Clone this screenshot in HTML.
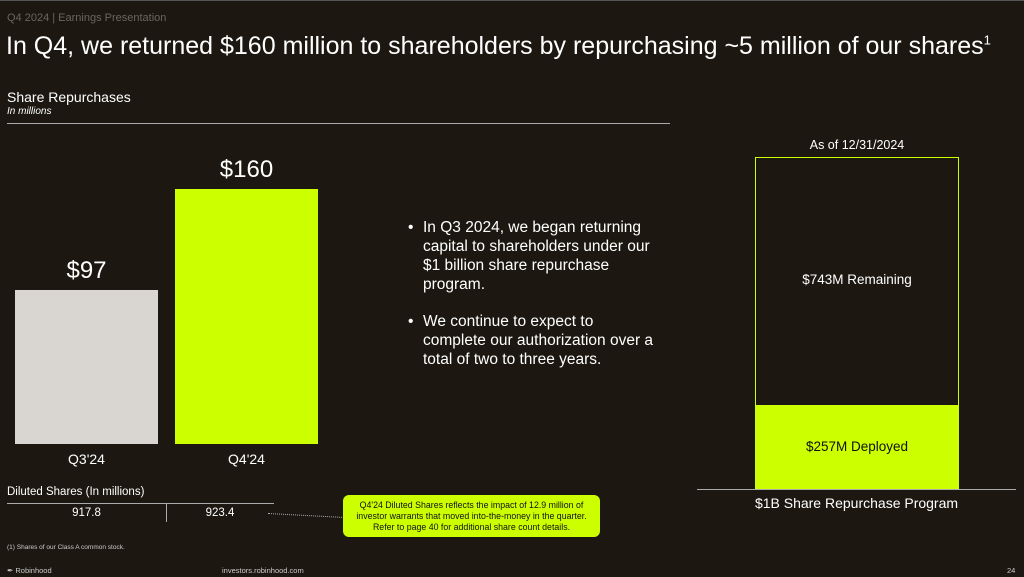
<!DOCTYPE html><html><head><style>
body{margin:0;width:1024px;height:577px;background:#1c1811;font-family:"Liberation Sans",sans-serif;color:#fff;position:relative;overflow:hidden}
div{position:absolute}
.c{text-align:center}
</style></head><body>
<div style="left:0;top:0;width:1024px;height:1px;background:#555"></div>
<div style="left:7px;top:12px;font-size:11px;color:#6a665e">Q4 2024 | Earnings Presentation</div>
<div style="left:6px;top:32px;font-size:25px;white-space:nowrap">In Q4, we returned $160 million to shareholders by repurchasing ~5 million of our shares<sup style="font-size:13px">1</sup></div>
<div style="left:7px;top:89px;font-size:14px">Share Repurchases</div>
<div style="left:7px;top:106px;font-size:10px;font-style:italic">In millions</div>
<div style="left:7px;top:123px;width:663px;height:1px;background:#aaa"></div>
<div style="left:15px;top:290px;width:143px;height:154px;background:#d9d6d1"></div>
<div style="left:175px;top:189px;width:143px;height:255px;background:#ccff00"></div>
<div class="c" style="left:15px;width:143px;top:257px;font-size:24px">$97</div>
<div class="c" style="left:175px;width:143px;top:156px;font-size:24px">$160</div>
<div class="c" style="left:15px;width:143px;top:451px;font-size:14px">Q3'24</div>
<div class="c" style="left:175px;width:143px;top:451px;font-size:14px">Q4'24</div>
<div style="left:7px;top:486px;font-size:11.5px">Diluted Shares (In millions)</div>
<div style="left:7px;top:503px;width:267px;height:1px;background:#aaa"></div>
<div style="left:166px;top:503px;width:1px;height:19px;background:#aaa"></div>
<div class="c" style="left:7px;width:159px;top:507px;font-size:11.5px">917.8</div>
<div class="c" style="left:166px;width:108px;top:507px;font-size:11.5px">923.4</div>
<div style="left:268px;top:513px;width:76px;border-top:1px dotted #aaa;transform:rotate(3deg);transform-origin:left"></div>
<div class="c" style="left:343px;top:495px;width:257px;height:42px;background:#ccff00;border-radius:6px;color:#111;font-size:8.8px;line-height:11px;padding:5px 8px 0;box-sizing:border-box">Q4'24 Diluted Shares reflects the impact of 12.9 million of investor warrants that moved into-the-money in the quarter. Refer to page 40 for additional share count details.</div>
<div style="left:7px;top:544px;font-size:6.5px;color:#ccc">(1) Shares of our Class A common stock.</div>
<div style="left:7px;top:566px;font-size:7.5px;color:#ccc">&#x2712; Robinhood</div>
<div style="left:222px;top:566px;font-size:7.5px;color:#ccc">investors.robinhood.com</div>
<div style="left:1007px;top:566px;font-size:7.5px;color:#ccc">24</div>
<div style="left:408px;top:218px;width:270px;font-size:15.5px;line-height:19px">
<div style="left:0;top:0">•</div><div style="left:15px;top:0;width:250px">In Q3 2024, we began returning<br>capital to shareholders under our<br>$1 billion share repurchase<br>program.</div>
<div style="left:0;top:94px">•</div><div style="left:15px;top:94px;width:255px">We continue to expect to<br>complete our authorization over a<br>total of two to three years.</div>
</div>
<div class="c" style="left:755px;width:204px;top:138px;font-size:12.5px">As of 12/31/2024</div>
<div style="left:755px;top:157px;width:204px;height:249px;border:1.5px solid #ccff00;box-sizing:border-box"></div>
<div style="left:755px;top:405px;width:204px;height:84px;background:#ccff00"></div>
<div class="c" style="left:755px;width:204px;top:272px;font-size:13.5px">$743M Remaining</div>
<div class="c" style="left:755px;width:204px;top:439px;font-size:13.5px;color:#111">$257M Deployed</div>
<div style="left:697px;top:489px;width:319px;height:1px;background:#aaa"></div>
<div class="c" style="left:697px;width:319px;top:495px;font-size:14px">$1B Share Repurchase Program</div>
</body></html>
